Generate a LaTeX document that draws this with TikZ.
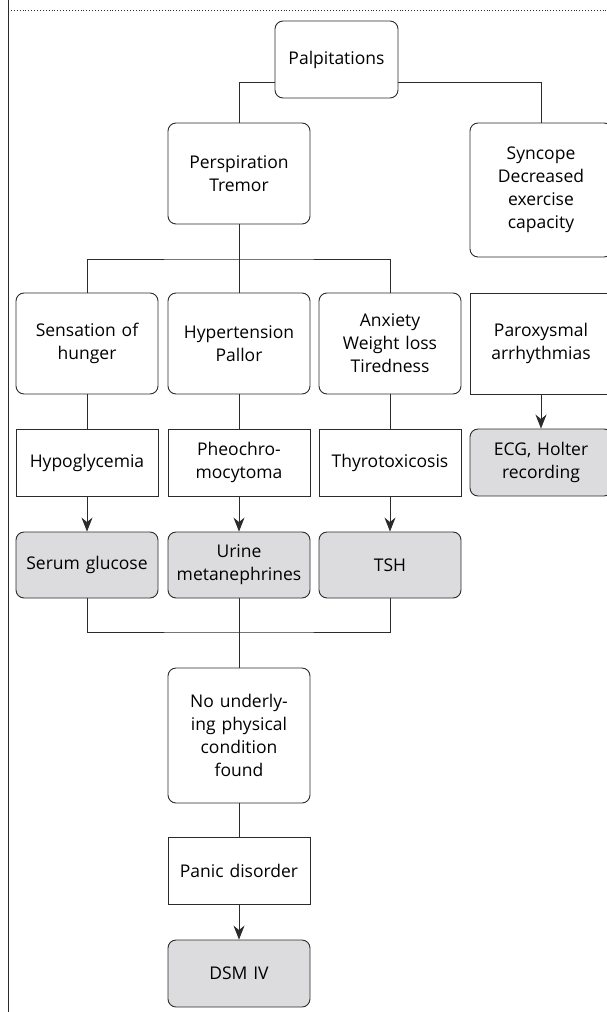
\documentclass[tikz,border=0pt]{standalone}
\usepackage{fontspec}
\setmainfont{Open Sans}
\usetikzlibrary{arrows.meta}
\definecolor{linegray}{HTML}{2B2B2B}
\definecolor{testgray}{HTML}{DCDCDE}
\tikzset{every path/.style={line width=0.9pt}}
\tikzset{
  rbox/.style={draw=linegray,rounded corners=8pt,align=center,text width=141pt,inner sep=0pt,minimum width=142pt,font=\fontsize{17.5}{23}\selectfont},
  sbox/.style={rbox,rounded corners=0pt},
  tbox/.style={rbox,fill=testgray},
  arr/.style={-{Stealth[length=14pt,width=11pt]}}
}

\begin{document}
\begin{tikzpicture}[x=1pt,y=-1pt,color=linegray,text=black]
\useasboundingbox (0,0) rectangle (606,1012);
\draw (8,0) -- (8,1012);
\draw[dotted,line width=0.6pt] (8,10) -- (606,10);

\node[rbox,minimum width=123pt,text width=122pt,minimum height=77pt] (palp) at (336.5,59.5) {Palpitations};
\node[rbox,minimum height=101pt] (persp) at (239,173.5) {Perspiration\\Tremor};
\node[rbox,minimum height=134pt] (sync) at (541,190) {Syncope\\Decreased\\exercise\\capacity};

\node[rbox,minimum height=101pt] (hunger) at (87,343.5) {Sensation of\\hunger};
\node[rbox,minimum height=101pt] (pallor) at (239,343.5) {Hypertension\\Pallor};
\node[rbox,minimum height=101pt] (anxiety) at (390,343.5) {Anxiety\\Weight loss\\Tiredness};
\node[sbox,minimum height=101pt] (parox) at (541,343.5) {Paroxysmal\\arrhythmias};

\node[sbox,minimum height=67pt] (hypo) at (87,462.5) {Hypoglycemia};
\node[sbox,minimum height=67pt] (pheo) at (239,462.5) {Pheochro-\\mocytoma};
\node[sbox,minimum height=67pt] (thyro) at (390,462.5) {Thyrotoxicosis};
\node[tbox,minimum height=67pt] (ecg) at (541,462.5) {ECG, Holter\\recording};

\node[tbox,minimum height=66pt] (glucose) at (87,565) {Serum glucose};
\node[tbox,minimum height=66pt] (urine) at (239,565) {Urine\\metanephrines};
\node[tbox,minimum height=66pt] (tsh) at (390,565) {TSH};

\node[rbox,minimum height=135pt] (nocond) at (239,735.5) {No underly-\\ing physical\\condition\\found};
\node[sbox,minimum height=67pt] (panic) at (239,870.5) {Panic disorder};
\node[tbox,minimum height=67pt] (dsm) at (239,973.5) {DSM IV};

\coordinate (topfork) at (0,82);
\coordinate (midfork) at (0,259);
\coordinate (lowjoin) at (0,632);

\draw (palp.west |- topfork) -| (persp.north);
\draw (palp.east |- topfork) -| (sync.north);
\draw (persp.south) -- (pallor.north);
\draw (hunger.north) |- (persp.south |- midfork) -| (anxiety.north);

\draw (hunger) -- (hypo);
\draw (pallor) -- (pheo);
\draw (anxiety) -- (thyro);
\draw[arr] (parox) -- (ecg);
\draw[arr] (hypo) -- (glucose);
\draw[arr] (pheo) -- (urine);
\draw[arr] (thyro) -- (tsh);

\draw (glucose.south) |- (urine.south |- lowjoin) -| (tsh.south);
\draw (urine.south) -- (nocond.north);
\draw (nocond) -- (panic);
\draw[arr] (panic) -- (dsm);
\end{tikzpicture}
\end{document}
